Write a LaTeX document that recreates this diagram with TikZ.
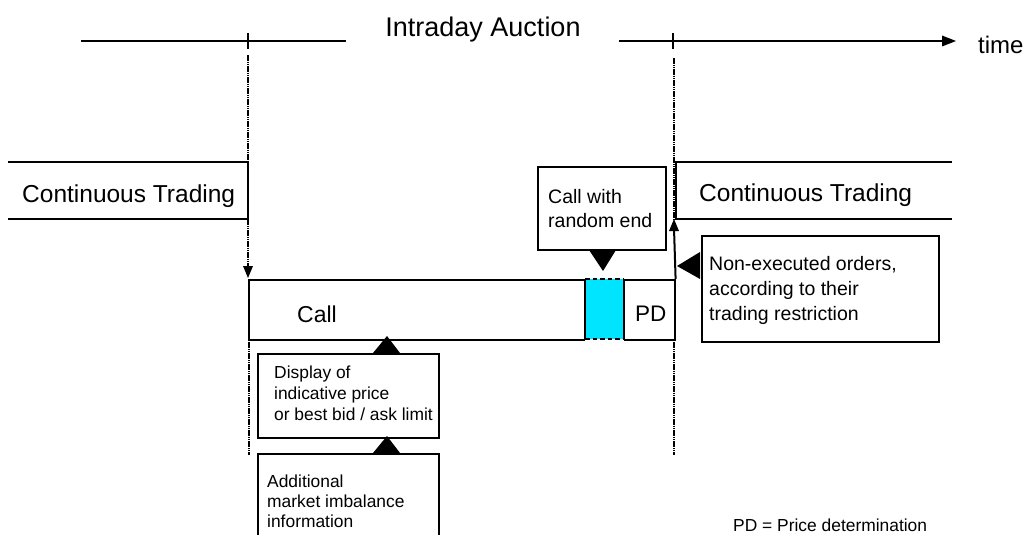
\documentclass[tikz,border=0pt]{standalone}
\usepackage{fontspec}
\setmainfont{Liberation Sans}
\usetikzlibrary{arrows.meta,calc}
\definecolor{cyanfill}{RGB}{0,229,255}
\begin{document}
\begin{tikzpicture}[x=1pt,y=-1pt,
  line/.style={line width=1.6pt},
  box/.style={draw,line width=1.6pt,inner sep=0pt,anchor=north west},
  txt/.style={inner sep=0pt,anchor=base west},
  bigtxt/.style={txt,font=\fontsize{24.5}{29}\selectfont},
  midtxt/.style={txt,font=\fontsize{19.5}{24}\selectfont},
  smalltxt/.style={txt,font=\fontsize{17.4}{21}\selectfont},
  dotline/.style={line width=2.2pt,dash pattern=on 1.6pt off 0.6pt},
  tri/.style={fill=black}
]
\useasboundingbox (0,0) rectangle (1029,535);
\clip (0,0) rectangle (1029,535);

% title and time axis
\node[inner sep=0pt,anchor=base,font=\fontsize{27}{32}\selectfont] (title) at (483,37) {Intraday Auction};
\coordinate (axL0) at (81,41);
\coordinate (axL1) at (346,41);
\coordinate (axR0) at (619,41);
\coordinate (axR1) at (943,41);
\coordinate (axTip) at (956,41);
\draw[line width=1.8pt] (axL0) -- (axL1);
\draw[line width=1.8pt] (axR0) -- (axR1);
\fill[tri] (axTip) -- ++(-14,-5.5) -- ++(0,11) -- cycle;
\node[txt,font=\fontsize{24}{29}\selectfont] (time) at (978,54) {time};
\draw[line width=1.1pt] (248,33) -- (248,49);
\draw[line width=1.1pt] (673,33) -- (673,49);

% continuous trading bands
\draw[line] (8,162) -- (248,162) -- (248,219) -- (8,219);
\node[bigtxt] (ctl) at (22,202) {Continuous Trading};
\draw[line] (952,162) -- (676,162) -- (676,219) -- (952,219);
\node[bigtxt] (ctr) at (699,201) {Continuous Trading};
\coordinate (ctLb) at (248,219);
\coordinate (ctRb) at (674,219);

% call box
\node[box,minimum width=426pt,minimum height=60pt] (call) at (248,279) {};
\fill[white] (585,277) rectangle (624,341);
\fill[cyanfill] (585,279) rectangle (624,339);
\draw[line] (585,279) -- (585,339);
\draw[line] (624,279) -- (624,339);
\draw[line width=2pt,dash pattern=on 4.5pt off 3pt] (585,279) -- (624,279);
\draw[line width=2pt,dash pattern=on 4.5pt off 3pt] (585,339) -- (624,339);
\node[txt,font=\fontsize{23}{27}\selectfont] (calltxt) at (297,322) {Call};
\node[txt,font=\fontsize{22.5}{27}\selectfont] (pd) at (635,321) {PD};

% vertical time markers
\draw[dotline] (248,55) -- (248,162);
\draw[dotline] (ctLb) -- ($(call.north west)+(0,-9)$);
\fill[tri] ($(call.north west)+(0,-1)$) -- ++(-5,-12) -- ++(10,0) -- cycle;
\draw[dotline] (249,342) -- (249,455);
\draw[dotline] (674,58) -- (674,219);
\draw[line width=2pt] (call.north east) -- ($(ctRb)+(0,9)$);
\fill[tri] (ctRb) -- ++(-5,12) -- ++(10,0) -- cycle;
\draw[dotline] (674,342) -- (674,455);

% call with random end
\node[box,minimum width=128pt,minimum height=83pt] (rnd) at (537,166) {};
\node[midtxt] (rnd1) at (548,203) {Call with};
\node[midtxt] (rnd2) at (548,227) {random end};
\fill[tri] (589,250) -- (616,250) -- (603,271) -- cycle;

% non-executed orders
\node[box,line width=2pt,minimum width=237pt,minimum height=106pt] (nex) at (701,235) {};
\node[midtxt] (nex1) at (709,270) {Non-executed orders,};
\node[midtxt] (nex2) at (709,295) {according to their};
\node[midtxt] (nex3) at (709,320) {trading restriction};
\fill[tri] (677,266) -- (700,252) -- (700,279) -- cycle;

% display box
\node[box,minimum width=181pt,minimum height=84pt] (disp) at (257,353) {};
\node[smalltxt] (d1) at (274,378) {Display of};
\node[smalltxt] (d2) at (274,399.5) {indicative price};
\node[smalltxt] (d3) at (274,420.5) {or best bid / ask limit};
\fill[tri] (373,353) -- (400,353) -- (387,336) -- cycle;

% additional box
\node[box,minimum width=181pt,minimum height=100pt] (add) at (257,453) {};
\node[smalltxt] (a1) at (267,487) {Additional};
\node[smalltxt] (a2) at (267,507) {market imbalance};
\node[smalltxt] (a3) at (267,527) {information};
\fill[tri] (373,453) -- (400,453) -- (387,436) -- cycle;

% legend
\node[smalltxt] (legend) at (733,531.5) {PD = Price determination};
\end{tikzpicture}
\end{document}
